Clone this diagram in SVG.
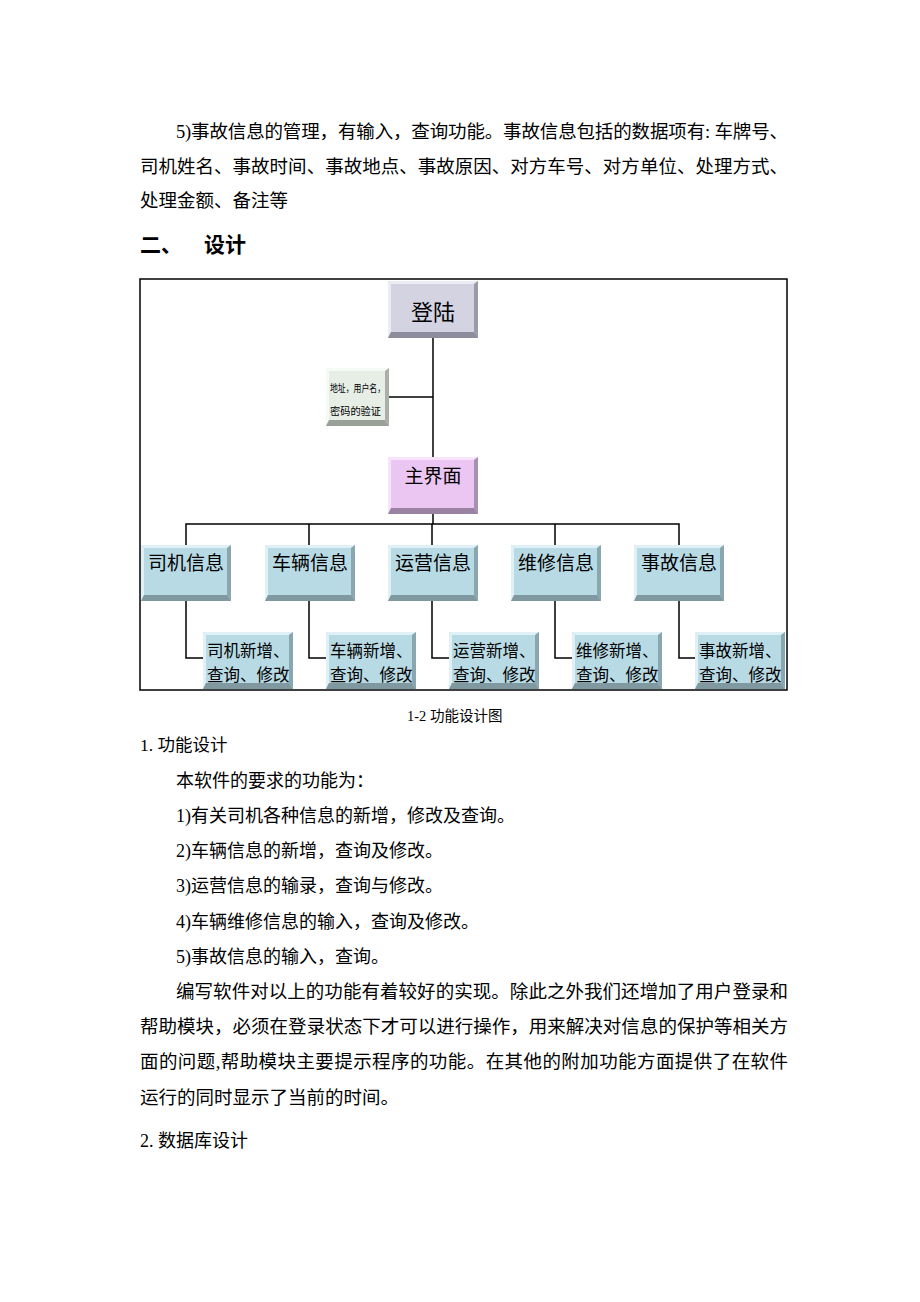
<svg xmlns="http://www.w3.org/2000/svg" width="920" height="1302" viewBox="0 0 920 1302">
<style>
text{font-family:"Liberation Serif","Noto Sans CJK SC",serif;fill:#000}
.body{font-size:18.5px}
.b2{font-size:18px}
.h{font-size:21px;font-weight:bold}
.ln{stroke:#000;stroke-width:1.5;fill:none}
.frame{stroke:#000;stroke-width:1.5;fill:none}
.gF{fill:#d3d3e2}.gT{fill:#ececf4}.gR{fill:#9a9aaa}.gB{fill:#8c8c9c}
.wF{fill:#e6eee6}.wT{fill:#f6faf6}.wR{fill:#a8b0a8}.wB{fill:#98a098}
.pF{fill:#ecc6f2}.pT{fill:#f8e4fa}.pR{fill:#a890b0}.pB{fill:#9a82a2}
.bF{fill:#b8dae4}.bT{fill:#dff0f6}.bR{fill:#8aa6ae}.bB{fill:#8099a0}
.n1{font-size:22px}.n2{font-size:19px}.n3{font-size:16.5px}.n4{font-size:10px}
</style>

<g id="page-text">
<text class="body" x="176" y="138" textLength="612" lengthAdjust="spacing">5)事故信息的管理，有输入，查询功能。事故信息包括的数据项有: 车牌号、</text>
<text class="body" x="140" y="173" textLength="648" lengthAdjust="spacing">司机姓名、事故时间、事故地点、事故原因、对方车号、对方单位、处理方式、</text>
<text class="body" x="140" y="207">处理金额、备注等</text>
<text class="h" x="140" y="252">二、</text>
<text class="h" x="204" y="252">设计</text>
</g>

<rect class="frame" x="140" y="279" width="647" height="411"/>

<g id="connectors">
<path class="ln" d="M433 338V457"/>
<path class="ln" d="M389 397H433"/>
<path class="ln" d="M433 514V524"/>
<path class="ln" d="M186 545V524H679V545"/>
<path class="ln" d="M309 524V545M432 524V545M555 524V545"/>
<path class="ln" d="M186 601V658H203"/>
<path class="ln" d="M309 601V658H326"/>
<path class="ln" d="M432 601V658H449"/>
<path class="ln" d="M555 601V658H572"/>
<path class="ln" d="M679 601V658H695"/>
</g>

<g id="login" transform="translate(388,281)">
<rect class="gF" x="0" y="0" width="90" height="57"/>
<polygon class="gT" points="0,0 90,0 86,3 3,3"/>
<polygon class="gT" points="0,0 3,3 3,51 0,57"/>
<polygon class="gR" points="90,0 90,57 86,51 86,3"/>
<polygon class="gB" points="0,57 90,57 86,51 3,51"/>
<text class="n1" x="45" y="39" text-anchor="middle">登陆</text>
</g>

<g id="verify" transform="translate(326,368)">
<rect class="wF" x="0" y="0" width="63" height="58"/>
<polygon class="wT" points="0,0 63,0 59,3 3,3"/>
<polygon class="wT" points="0,0 3,3 3,52 0,58"/>
<polygon class="wR" points="63,0 63,58 59,52 59,3"/>
<polygon class="wB" points="0,58 63,58 59,52 3,52"/>
<text class="n4" x="4" y="24" textLength="55" lengthAdjust="spacingAndGlyphs">地址，用户名，</text>
<text class="n4" x="4" y="47" textLength="51" lengthAdjust="spacingAndGlyphs">密码的验证</text>
</g>

<g id="main" transform="translate(388,457)">
<rect class="pF" x="0" y="0" width="90" height="57"/>
<polygon class="pT" points="0,0 90,0 86,3 3,3"/>
<polygon class="pT" points="0,0 3,3 3,51 0,57"/>
<polygon class="pR" points="90,0 90,57 86,51 86,3"/>
<polygon class="pB" points="0,57 90,57 86,51 3,51"/>
<text class="n2" x="45" y="26" text-anchor="middle">主界面</text>
</g>

<g id="driver" transform="translate(141,545)">
<rect class="bF" x="0" y="0" width="90" height="56"/>
<polygon class="bT" points="0,0 90,0 86,3 3,3"/>
<polygon class="bT" points="0,0 3,3 3,50 0,56"/>
<polygon class="bR" points="90,0 90,56 86,50 86,3"/>
<polygon class="bB" points="0,56 90,56 86,50 3,50"/>
<text class="n2" x="45" y="25" text-anchor="middle">司机信息</text>
</g>
<g id="vehicle" transform="translate(265,545)">
<rect class="bF" x="0" y="0" width="90" height="56"/>
<polygon class="bT" points="0,0 90,0 86,3 3,3"/>
<polygon class="bT" points="0,0 3,3 3,50 0,56"/>
<polygon class="bR" points="90,0 90,56 86,50 86,3"/>
<polygon class="bB" points="0,56 90,56 86,50 3,50"/>
<text class="n2" x="45" y="25" text-anchor="middle">车辆信息</text>
</g>
<g id="operation" transform="translate(388,545)">
<rect class="bF" x="0" y="0" width="90" height="56"/>
<polygon class="bT" points="0,0 90,0 86,3 3,3"/>
<polygon class="bT" points="0,0 3,3 3,50 0,56"/>
<polygon class="bR" points="90,0 90,56 86,50 86,3"/>
<polygon class="bB" points="0,56 90,56 86,50 3,50"/>
<text class="n2" x="45" y="25" text-anchor="middle">运营信息</text>
</g>
<g id="repair" transform="translate(511,545)">
<rect class="bF" x="0" y="0" width="90" height="56"/>
<polygon class="bT" points="0,0 90,0 86,3 3,3"/>
<polygon class="bT" points="0,0 3,3 3,50 0,56"/>
<polygon class="bR" points="90,0 90,56 86,50 86,3"/>
<polygon class="bB" points="0,56 90,56 86,50 3,50"/>
<text class="n2" x="45" y="25" text-anchor="middle">维修信息</text>
</g>
<g id="accident" transform="translate(634,545)">
<rect class="bF" x="0" y="0" width="90" height="56"/>
<polygon class="bT" points="0,0 90,0 86,3 3,3"/>
<polygon class="bT" points="0,0 3,3 3,50 0,56"/>
<polygon class="bR" points="90,0 90,56 86,50 86,3"/>
<polygon class="bB" points="0,56 90,56 86,50 3,50"/>
<text class="n2" x="45" y="25" text-anchor="middle">事故信息</text>
</g>

<g id="driver-ops" transform="translate(203,632)">
<rect class="bF" x="0" y="0" width="90" height="57"/>
<polygon class="bT" points="0,0 90,0 86,3 3,3"/>
<polygon class="bT" points="0,0 3,3 3,51 0,57"/>
<polygon class="bR" points="90,0 90,57 86,51 86,3"/>
<polygon class="bB" points="0,57 90,57 86,51 3,51"/>
<text class="n3" x="4" y="25">司机新增、</text>
<text class="n3" x="4" y="49">查询、修改</text>
</g>
<g id="vehicle-ops" transform="translate(326,632)">
<rect class="bF" x="0" y="0" width="90" height="57"/>
<polygon class="bT" points="0,0 90,0 86,3 3,3"/>
<polygon class="bT" points="0,0 3,3 3,51 0,57"/>
<polygon class="bR" points="90,0 90,57 86,51 86,3"/>
<polygon class="bB" points="0,57 90,57 86,51 3,51"/>
<text class="n3" x="4" y="25">车辆新增、</text>
<text class="n3" x="4" y="49">查询、修改</text>
</g>
<g id="operation-ops" transform="translate(449,632)">
<rect class="bF" x="0" y="0" width="90" height="57"/>
<polygon class="bT" points="0,0 90,0 86,3 3,3"/>
<polygon class="bT" points="0,0 3,3 3,51 0,57"/>
<polygon class="bR" points="90,0 90,57 86,51 86,3"/>
<polygon class="bB" points="0,57 90,57 86,51 3,51"/>
<text class="n3" x="4" y="25">运营新增、</text>
<text class="n3" x="4" y="49">查询、修改</text>
</g>
<g id="repair-ops" transform="translate(572,632)">
<rect class="bF" x="0" y="0" width="90" height="57"/>
<polygon class="bT" points="0,0 90,0 86,3 3,3"/>
<polygon class="bT" points="0,0 3,3 3,51 0,57"/>
<polygon class="bR" points="90,0 90,57 86,51 86,3"/>
<polygon class="bB" points="0,57 90,57 86,51 3,51"/>
<text class="n3" x="4" y="25">维修新增、</text>
<text class="n3" x="4" y="49">查询、修改</text>
</g>
<g id="accident-ops" transform="translate(695,632)">
<rect class="bF" x="0" y="0" width="90" height="57"/>
<polygon class="bT" points="0,0 90,0 86,3 3,3"/>
<polygon class="bT" points="0,0 3,3 3,51 0,57"/>
<polygon class="bR" points="90,0 90,57 86,51 86,3"/>
<polygon class="bB" points="0,57 90,57 86,51 3,51"/>
<text class="n3" x="4" y="25">事故新增、</text>
<text class="n3" x="4" y="49">查询、修改</text>
</g>

<g id="body-text">
<text x="407" y="721" style="font-size:14.5px">1-2 功能设计图</text>
<text x="140" y="751" style="font-size:17.5px">1. 功能设计</text>
<text class="b2" x="176" y="787">本软件的要求的功能为：</text>
<text class="b2" x="176" y="822">1)有关司机各种信息的新增，修改及查询。</text>
<text class="b2" x="176" y="857">2)车辆信息的新增，查询及修改。</text>
<text class="b2" x="176" y="892">3)运营信息的输录，查询与修改。</text>
<text class="b2" x="176" y="928">4)车辆维修信息的输入，查询及修改。</text>
<text class="b2" x="176" y="963">5)事故信息的输入，查询。</text>
<text class="body" x="176" y="998" textLength="612" lengthAdjust="spacing">编写软件对以上的功能有着较好的实现。除此之外我们还增加了用户登录和</text>
<text class="body" x="140" y="1033" textLength="648" lengthAdjust="spacing">帮助模块，必须在登录状态下才可以进行操作，用来解决对信息的保护等相关方</text>
<text class="body" x="140" y="1068" textLength="648" lengthAdjust="spacing">面的问题,帮助模块主要提示程序的功能。在其他的附加功能方面提供了在软件</text>
<text class="body" x="140" y="1104">运行的同时显示了当前的时间。</text>
<text class="b2" x="140" y="1147">2. 数据库设计</text>
</g>
</svg>
